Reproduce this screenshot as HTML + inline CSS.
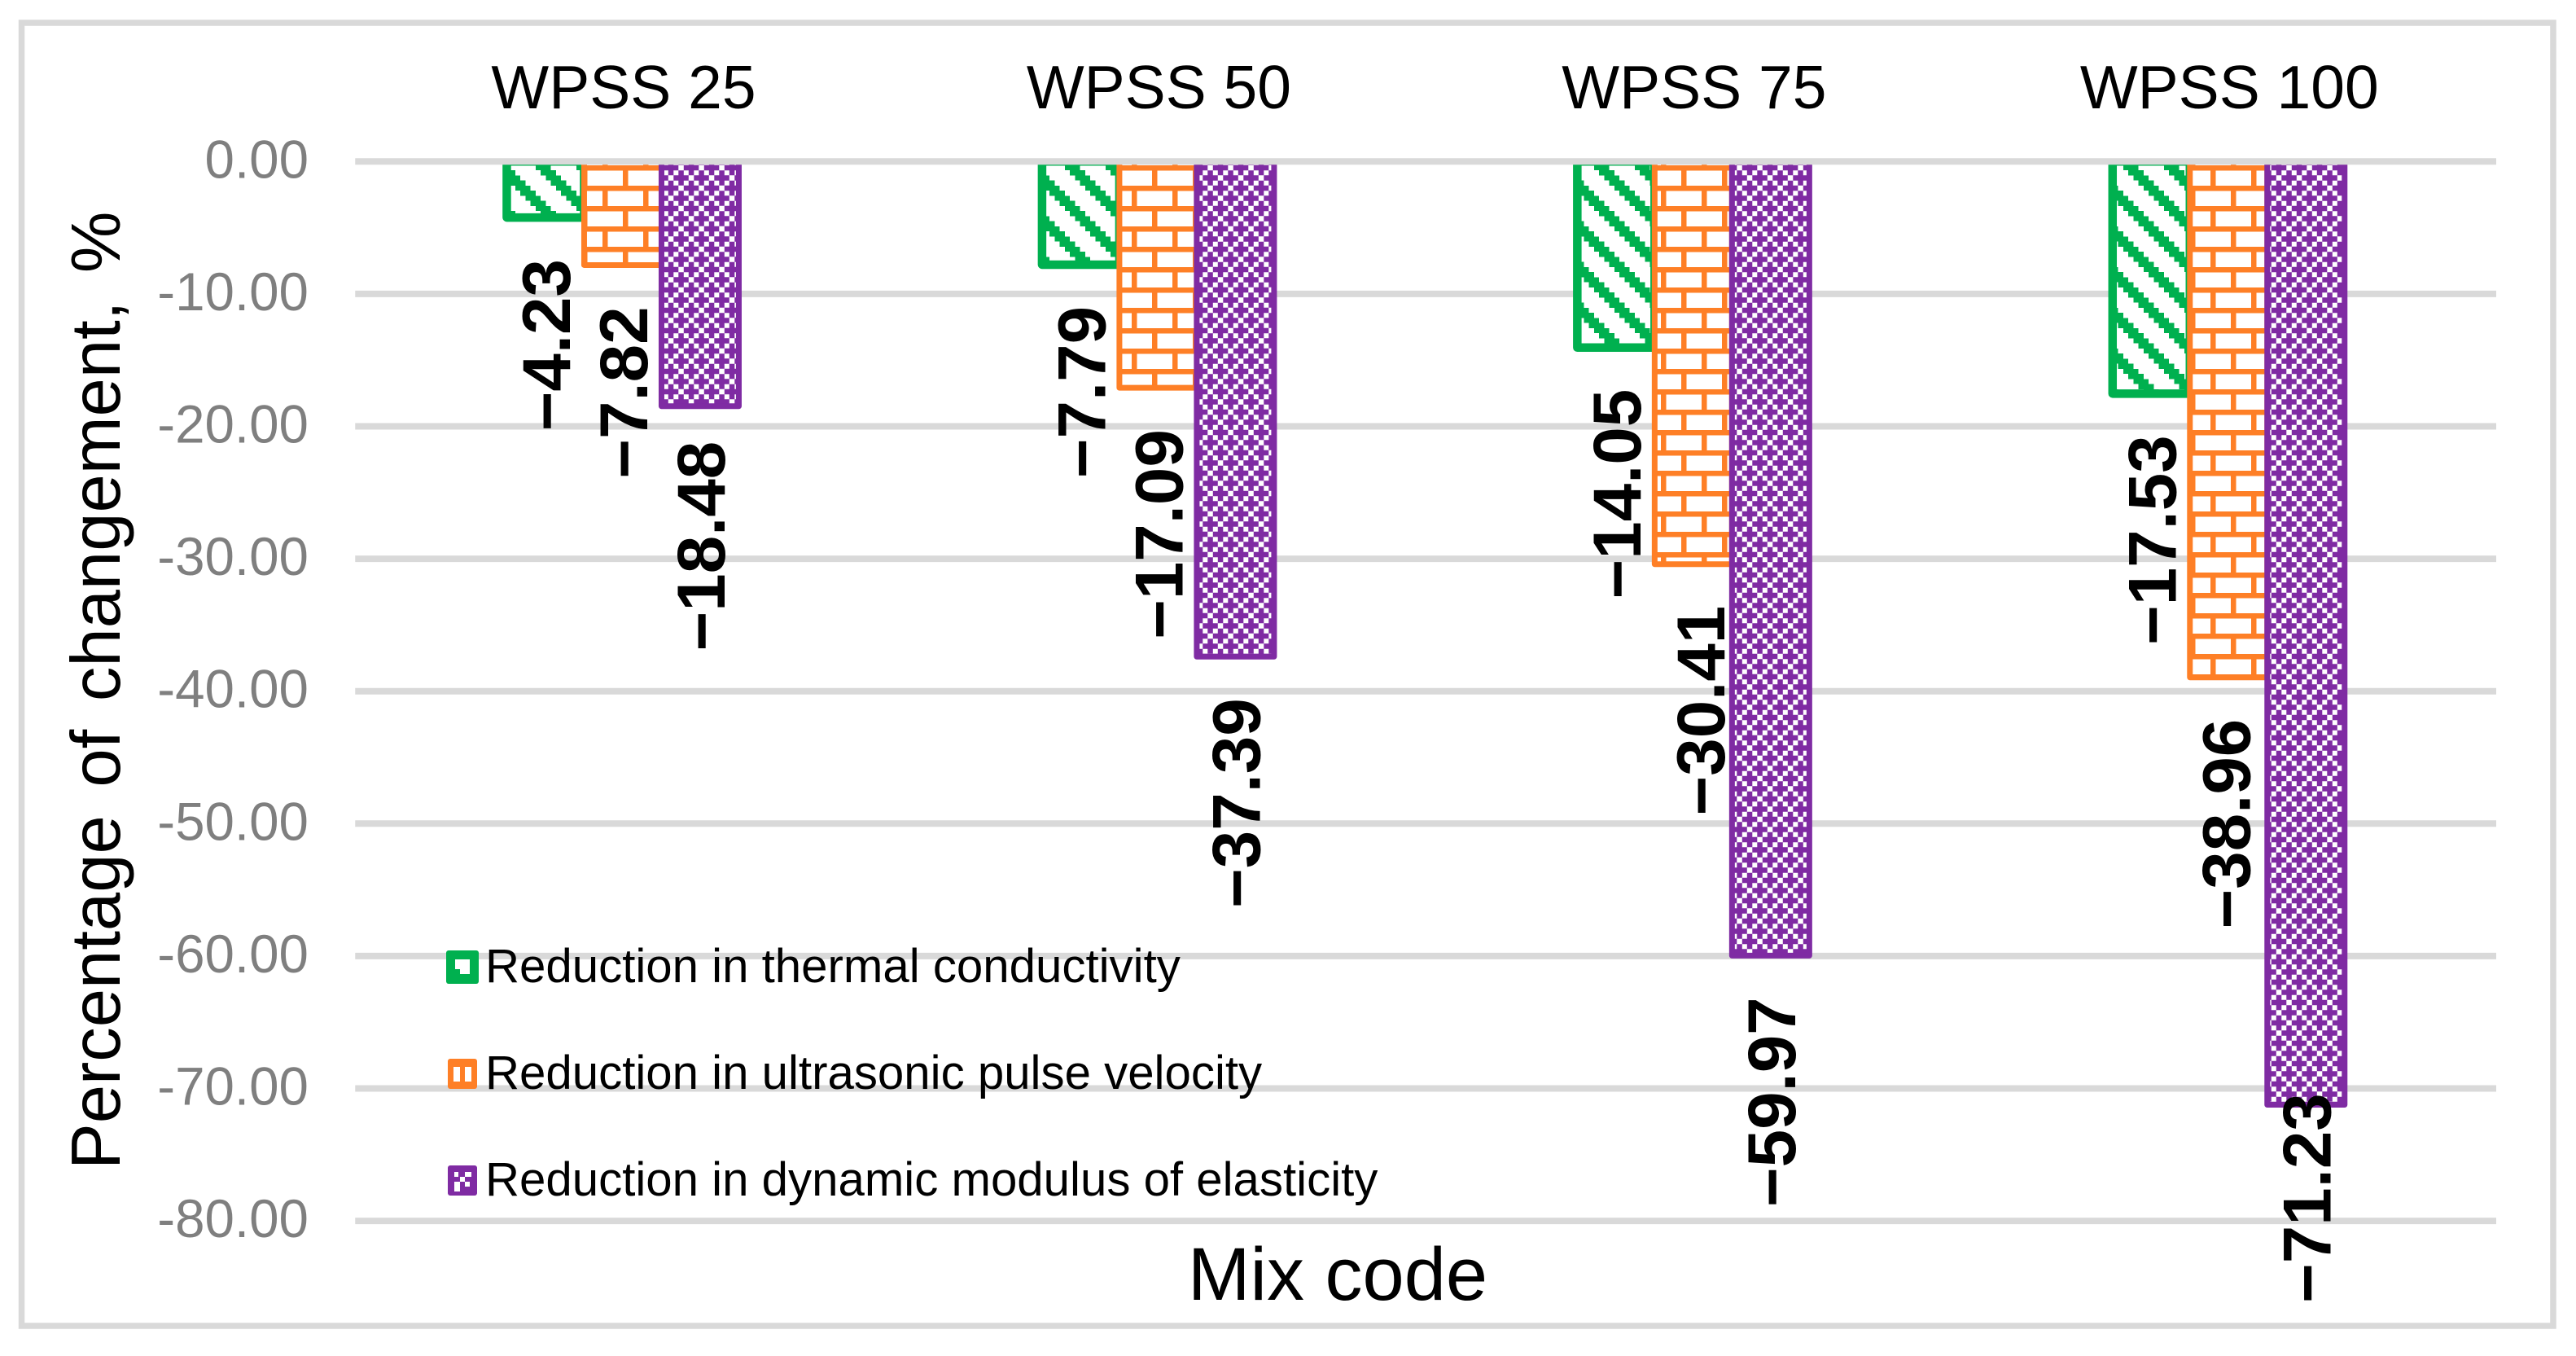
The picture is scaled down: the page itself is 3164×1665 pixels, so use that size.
<!DOCTYPE html>
<html lang="en">
<head>
<meta charset="utf-8">
<title>Percentage of changement by mix code</title>
<style>
html,body{margin:0;padding:0;background:#fff;}
svg{display:block;font-family:"Liberation Sans",sans-serif;}
.grid{stroke:#d9d9d9;stroke-width:8;}
.tick{fill:#7f7f7f;font-size:65.5px;text-anchor:end;}
.cat{fill:#000;font-size:75px;text-anchor:middle;}
.dl{fill:#000;font-size:83.5px;font-weight:bold;text-anchor:end;}
.bar{stroke-linejoin:round;}
.bar-s0{fill:url(#pat-green);stroke:#00b04f;stroke-width:10.5;}
.bar-s1{fill:url(#pat-orange);stroke:#fe7f26;stroke-width:7;}
.bar-s2{fill:url(#pat-purple);stroke:#7f2ba3;stroke-width:7;}
</style>
</head>
<body>
<svg id="chart" xmlns="http://www.w3.org/2000/svg" width="3164" height="1665" viewBox="0 0 3164 1665">
<defs>
<clipPath id="bar-clip"><rect x="0" y="198" width="3164" height="1467"/></clipPath>
<pattern id="pat-green" patternUnits="userSpaceOnUse" width="8" height="8" patternTransform="translate(14 209) scale(6.25)">
<rect width="8" height="8" fill="#fff"/>
<path fill="#00b04f" shape-rendering="crispEdges" d="M0 0h3v1h-3zM1 1h3v1h-3zM2 2h3v1h-3zM3 3h3v1h-3zM4 4h3v1h-3zM5 5h3v1h-3zM6 6h2v1h-2zM0 6h1v1h-1zM7 7h1v1h-1zM0 7h2v1h-2z"/>
</pattern>
<pattern id="pat-orange" patternUnits="userSpaceOnUse" width="8" height="8" patternTransform="translate(15 203) scale(6.25)">
<rect width="8" height="8" fill="#fff"/>
<path fill="#fe7f26" shape-rendering="crispEdges" d="M0 0h8v1h-8zM0 1h1v3h-1zM0 4h8v1h-8zM4 5h1v3h-1z"/>
</pattern>
<pattern id="pat-purple" patternUnits="userSpaceOnUse" width="4" height="4" patternTransform="translate(20.8 202.75) scale(6.25)">
<rect width="4" height="4" fill="#7f2ba3"/>
<path fill="#fff" shape-rendering="crispEdges" d="M2 0h1v1h-1zM1 1h1v1h-1zM3 1h1v1h-1zM0 2h1v1h-1zM1 3h1v1h-1zM3 3h1v1h-1z"/>
</pattern>
</defs>
<rect x="0" y="0" width="3164" height="1665" fill="#fff"/>
<rect x="26.5" y="28" width="3109.5" height="1600" fill="none" stroke="#d9d9d9" stroke-width="7.5"/>
<g id="grid-layer"></g>
<g id="tick-layer"></g>
<g id="bar-layer" clip-path="url(#bar-clip)"></g>
<g id="axis-layer"></g>
<g id="cat-layer"></g>
<text transform="translate(147 1436) rotate(-90)" text-anchor="start" font-size="85" word-spacing="11" fill="#000">Percentage of changement, %</text>
<text x="1643" y="1596" text-anchor="middle" font-size="92" fill="#000">Mix code</text>
<g>
<g>
<rect x="548" y="1167" width="40" height="41" rx="3" fill="#00b04f"/>
<path d="M559 1178h18v18h-12v-6h-6z" fill="#fff"/>
<text x="596" y="1206" font-size="58.2" fill="#000">Reduction in thermal conductivity</text>
</g>
<g>
<rect x="550" y="1300" width="36" height="37" rx="3" fill="#fe7f26"/>
<path d="M557 1310h8v18h-8zM571 1310h8v18h-8z" fill="#fff"/>
<text x="596" y="1337" font-size="58.2" fill="#000">Reduction in ultrasonic pulse velocity</text>
</g>
<g>
<rect x="550" y="1431" width="36" height="37" rx="3" fill="#7f2ba3"/>
<path d="M558 1439h5v6h-5zM571 1439h8v6h-8zM565 1445h6v6h-6zM558 1451h7v6h-7zM558 1457h7v6h-7zM571 1451h6v6h-6z" fill="#fff"/>
<text x="596" y="1468" font-size="58.2" fill="#000">Reduction in dynamic modulus of elasticity</text>
</g>
</g>
<g id="label-layer"></g>
</svg>
<script>
const categories = ["WPSS 25", "WPSS 50", "WPSS 75", "WPSS 100"];
const thermalConductivity = [-4.23, -7.79, -14.05, -17.53];
const ultrasonicPulseVelocity = [-7.82, -17.09, -30.41, -38.96];
const dynamicModulus = [-18.48, -37.39, -59.97, -71.23];
const yTicks = [0, -10, -20, -30, -40, -50, -60, -70, -80];

const seriesList = [thermalConductivity, ultrasonicPulseVelocity, dynamicModulus];
const NS = "http://www.w3.org/2000/svg";
const plotLeft = 436.25, plotRight = 3066, zeroY = 198.3, perUnit = 16.26;
const barStep = 95, labelGap = 51, labelFloor = 1600;

function yScale(v) { return zeroY - v * perUnit; }
function catCenter(i) { return plotLeft + (plotRight - plotLeft) * (i + 0.5) / categories.length; }
function barLeft(i, s) { return catCenter(i) + (s - seriesList.length / 2) * barStep; }
/* hand-dragged labels in the source chart */
function labelShiftY(s, i) { return (s === 2 && i === 0) ? -8 : 0; }
function labelShiftX(s, i) {
  if (s === 1 && i === 2) return 8;
  if (s === 1 && i === 3) return -4;
  return 0;
}

const gridLayer = document.getElementById("grid-layer");
const tickLayer = document.getElementById("tick-layer");
const barLayer = document.getElementById("bar-layer");
const axisLayer = document.getElementById("axis-layer");
const catLayer = document.getElementById("cat-layer");
const labelLayer = document.getElementById("label-layer");

yTicks.forEach(function (t) {
  if (t !== 0) {
    const line = document.createElementNS(NS, "line");
    line.setAttribute("class", "grid");
    line.setAttribute("x1", plotLeft);
    line.setAttribute("x2", plotRight);
    line.setAttribute("y1", yScale(t));
    line.setAttribute("y2", yScale(t));
    
    
    gridLayer.appendChild(line);
  }
  const label = document.createElementNS(NS, "text");
  label.setAttribute("class", "tick");
  label.setAttribute("x", 379);
  label.setAttribute("y", yScale(t) + 20);
  label.textContent = t.toFixed(2);
  
  
  tickLayer.appendChild(label);
});

seriesList.forEach(function (values, s) {
  values.forEach(function (v, i) {
    const bar = document.createElementNS(NS, "rect");
    bar.setAttribute("class", "bar bar-s" + s);
    bar.setAttribute("x", barLeft(i, s));
    bar.setAttribute("y", zeroY);
    bar.setAttribute("width", barStep);
    bar.setAttribute("height", yScale(v) - zeroY);
    
    
    barLayer.appendChild(bar);
  });
});

const zeroLine = document.createElementNS(NS, "line");
zeroLine.setAttribute("class", "grid");
zeroLine.setAttribute("x1", plotLeft);
zeroLine.setAttribute("x2", plotRight);
zeroLine.setAttribute("y1", yScale(0));
zeroLine.setAttribute("y2", yScale(0));


axisLayer.appendChild(zeroLine);

categories.forEach(function (c, i) {
  const label = document.createElementNS(NS, "text");
  label.setAttribute("class", "cat");
  label.setAttribute("x", catCenter(i) + 1);
  label.setAttribute("y", 133);
  label.textContent = c;
  
  
  catLayer.appendChild(label);
});

seriesList.forEach(function (values, s) {
  values.forEach(function (v, i) {
    const label = document.createElementNS(NS, "text");
    label.setAttribute("class", "dl");
    label.textContent = v.toFixed(2).replace("-", "\u2212");
    
    
    labelLayer.appendChild(label);
    const len = label.getComputedTextLength();
    const top = Math.min(yScale(v) + labelGap + labelShiftY(s, i), labelFloor - len);
    const cx = barLeft(i, s) + barStep / 2 + 30 + labelShiftX(s, i);
    label.setAttribute("transform", "translate(" + cx + " " + top + ") rotate(-90)");
  });
});
</script>
</body>
</html>
